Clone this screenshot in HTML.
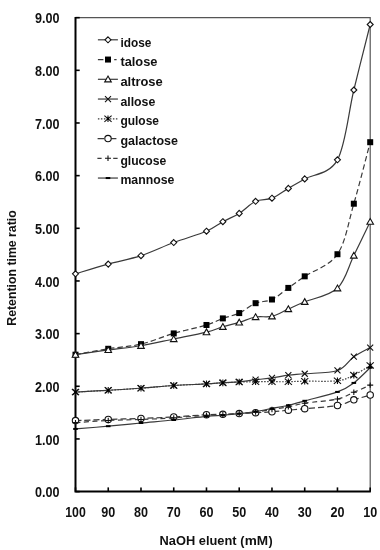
<!DOCTYPE html><html><head><meta charset="utf-8"><style>
html,body{margin:0;padding:0;background:#fff;}
body{width:380px;height:550px;overflow:hidden;}
svg{display:block;filter:blur(0.3px);}
text{font-family:"Liberation Sans",sans-serif;fill:#111;}
</style></head><body>
<svg width="380" height="550" viewBox="0 0 380 550">
<rect width="380" height="550" fill="#fff"/>
<path d="M75.50,17.66 H370.20 V491.60" fill="none" stroke="#555" stroke-width="1.2"/>
<path d="M75.50,17.06 V491.60 H370.80" fill="none" stroke="#000" stroke-width="2"/>
<path d="M75.50,491.60 H79.70" stroke="#000" stroke-width="1.6"/>
<path d="M75.50,438.94 H79.70" stroke="#000" stroke-width="1.6"/>
<path d="M75.50,386.28 H79.70" stroke="#000" stroke-width="1.6"/>
<path d="M75.50,333.62 H79.70" stroke="#000" stroke-width="1.6"/>
<path d="M75.50,280.96 H79.70" stroke="#000" stroke-width="1.6"/>
<path d="M75.50,228.30 H79.70" stroke="#000" stroke-width="1.6"/>
<path d="M75.50,175.64 H79.70" stroke="#000" stroke-width="1.6"/>
<path d="M75.50,122.98 H79.70" stroke="#000" stroke-width="1.6"/>
<path d="M75.50,70.32 H79.70" stroke="#000" stroke-width="1.6"/>
<path d="M75.50,17.66 H79.70" stroke="#000" stroke-width="1.6"/>
<path d="M75.50,491.60 V487.40" stroke="#000" stroke-width="1.6"/>
<path d="M108.24,491.60 V487.40" stroke="#000" stroke-width="1.6"/>
<path d="M140.99,491.60 V487.40" stroke="#000" stroke-width="1.6"/>
<path d="M173.73,491.60 V487.40" stroke="#000" stroke-width="1.6"/>
<path d="M206.48,491.60 V487.40" stroke="#000" stroke-width="1.6"/>
<path d="M239.22,491.60 V487.40" stroke="#000" stroke-width="1.6"/>
<path d="M271.97,491.60 V487.40" stroke="#000" stroke-width="1.6"/>
<path d="M304.71,491.60 V487.40" stroke="#000" stroke-width="1.6"/>
<path d="M337.46,491.60 V487.40" stroke="#000" stroke-width="1.6"/>
<path d="M370.20,491.60 V487.40" stroke="#000" stroke-width="1.6"/>
<path d="M75.50,273.80 C80.96,272.18 97.33,267.13 108.24,264.11 C119.16,261.09 130.07,259.28 140.99,255.68 C151.90,252.08 162.82,246.60 173.73,242.52 C184.65,238.44 198.29,234.66 206.48,231.20 C214.66,227.73 217.39,224.68 222.85,221.72 C228.31,218.75 233.76,216.80 239.22,213.40 C244.68,209.99 250.14,203.82 255.59,201.29 C261.05,198.75 266.51,200.33 271.97,198.18 C277.42,196.03 282.88,191.60 288.34,188.38 C293.80,185.17 296.52,183.66 304.71,178.90 C312.90,174.15 329.27,174.66 337.46,159.84 C345.64,145.03 348.37,112.57 353.83,90.01 C359.29,67.46 367.47,35.42 370.20,24.51" fill="none" stroke="#3a3a3a" stroke-width="1.20"/>
<path d="M75.50,270.80 L78.50,273.80 L75.50,276.80 L72.50,273.80 Z" fill="#fff" stroke="#111" stroke-width="1.1"/>
<path d="M108.24,261.11 L111.24,264.11 L108.24,267.11 L105.24,264.11 Z" fill="#fff" stroke="#111" stroke-width="1.1"/>
<path d="M140.99,252.68 L143.99,255.68 L140.99,258.68 L137.99,255.68 Z" fill="#fff" stroke="#111" stroke-width="1.1"/>
<path d="M173.73,239.52 L176.73,242.52 L173.73,245.52 L170.73,242.52 Z" fill="#fff" stroke="#111" stroke-width="1.1"/>
<path d="M206.48,228.20 L209.48,231.20 L206.48,234.20 L203.48,231.20 Z" fill="#fff" stroke="#111" stroke-width="1.1"/>
<path d="M222.85,218.72 L225.85,221.72 L222.85,224.72 L219.85,221.72 Z" fill="#fff" stroke="#111" stroke-width="1.1"/>
<path d="M239.22,210.40 L242.22,213.40 L239.22,216.40 L236.22,213.40 Z" fill="#fff" stroke="#111" stroke-width="1.1"/>
<path d="M255.59,198.29 L258.59,201.29 L255.59,204.29 L252.59,201.29 Z" fill="#fff" stroke="#111" stroke-width="1.1"/>
<path d="M271.97,195.18 L274.97,198.18 L271.97,201.18 L268.97,198.18 Z" fill="#fff" stroke="#111" stroke-width="1.1"/>
<path d="M288.34,185.38 L291.34,188.38 L288.34,191.38 L285.34,188.38 Z" fill="#fff" stroke="#111" stroke-width="1.1"/>
<path d="M304.71,175.90 L307.71,178.90 L304.71,181.90 L301.71,178.90 Z" fill="#fff" stroke="#111" stroke-width="1.1"/>
<path d="M337.46,156.84 L340.46,159.84 L337.46,162.84 L334.46,159.84 Z" fill="#fff" stroke="#111" stroke-width="1.1"/>
<path d="M353.83,87.01 L356.83,90.01 L353.83,93.01 L350.83,90.01 Z" fill="#fff" stroke="#111" stroke-width="1.1"/>
<path d="M370.20,21.51 L373.20,24.51 L370.20,27.51 L367.20,24.51 Z" fill="#fff" stroke="#111" stroke-width="1.1"/>
<path d="M75.50,354.68 C80.96,353.70 97.33,350.54 108.24,348.79 C119.16,347.03 130.07,346.71 140.99,344.15 C151.90,341.59 162.82,336.60 173.73,333.41 C184.65,330.21 198.29,327.49 206.48,324.98 C214.66,322.48 217.39,320.38 222.85,318.40 C228.31,316.42 233.76,315.62 239.22,313.08 C244.68,310.55 250.14,305.45 255.59,303.18 C261.05,300.92 266.51,302.04 271.97,299.50 C277.42,296.95 282.88,291.77 288.34,287.91 C293.80,284.05 296.52,281.94 304.71,276.33 C312.90,270.71 329.27,266.31 337.46,254.21 C345.64,242.11 348.37,222.38 353.83,203.71 C359.29,185.04 367.47,152.45 370.20,142.20" fill="none" stroke="#3a3a3a" stroke-width="1.20" stroke-dasharray="5.5 3"/>
<rect x="72.50" y="351.68" width="6" height="6" fill="#000"/>
<rect x="105.24" y="345.79" width="6" height="6" fill="#000"/>
<rect x="137.99" y="341.15" width="6" height="6" fill="#000"/>
<rect x="170.73" y="330.41" width="6" height="6" fill="#000"/>
<rect x="203.48" y="321.98" width="6" height="6" fill="#000"/>
<rect x="219.85" y="315.40" width="6" height="6" fill="#000"/>
<rect x="236.22" y="310.08" width="6" height="6" fill="#000"/>
<rect x="252.59" y="300.18" width="6" height="6" fill="#000"/>
<rect x="268.97" y="296.50" width="6" height="6" fill="#000"/>
<rect x="285.34" y="284.91" width="6" height="6" fill="#000"/>
<rect x="301.71" y="273.33" width="6" height="6" fill="#000"/>
<rect x="334.46" y="251.21" width="6" height="6" fill="#000"/>
<rect x="350.83" y="200.71" width="6" height="6" fill="#000"/>
<rect x="367.20" y="139.20" width="6" height="6" fill="#000"/>
<path d="M75.50,354.68 C80.96,353.89 97.33,351.44 108.24,349.94 C119.16,348.45 130.07,347.56 140.99,345.73 C151.90,343.91 162.82,341.26 173.73,338.99 C184.65,336.72 198.29,334.13 206.48,332.09 C214.66,330.06 217.39,328.39 222.85,326.77 C228.31,325.16 233.76,324.04 239.22,322.40 C244.68,320.77 250.14,318.00 255.59,316.98 C261.05,315.96 266.51,317.62 271.97,316.29 C277.42,314.97 282.88,311.44 288.34,309.03 C293.80,306.61 296.52,305.28 304.71,301.81 C312.90,298.35 329.27,295.94 337.46,288.23 C345.64,280.51 348.37,266.61 353.83,255.53 C359.29,244.44 367.47,227.35 370.20,221.72" fill="none" stroke="#3a3a3a" stroke-width="1.20"/>
<path d="M75.50,351.48 L78.80,357.28 L72.20,357.28 Z" fill="#fff" stroke="#111" stroke-width="1.1"/>
<path d="M108.24,346.74 L111.54,352.54 L104.94,352.54 Z" fill="#fff" stroke="#111" stroke-width="1.1"/>
<path d="M140.99,342.53 L144.29,348.33 L137.69,348.33 Z" fill="#fff" stroke="#111" stroke-width="1.1"/>
<path d="M173.73,335.79 L177.03,341.59 L170.43,341.59 Z" fill="#fff" stroke="#111" stroke-width="1.1"/>
<path d="M206.48,328.89 L209.78,334.69 L203.18,334.69 Z" fill="#fff" stroke="#111" stroke-width="1.1"/>
<path d="M222.85,323.57 L226.15,329.37 L219.55,329.37 Z" fill="#fff" stroke="#111" stroke-width="1.1"/>
<path d="M239.22,319.20 L242.52,325.00 L235.92,325.00 Z" fill="#fff" stroke="#111" stroke-width="1.1"/>
<path d="M255.59,313.78 L258.89,319.58 L252.29,319.58 Z" fill="#fff" stroke="#111" stroke-width="1.1"/>
<path d="M271.97,313.09 L275.27,318.89 L268.67,318.89 Z" fill="#fff" stroke="#111" stroke-width="1.1"/>
<path d="M288.34,305.83 L291.64,311.63 L285.04,311.63 Z" fill="#fff" stroke="#111" stroke-width="1.1"/>
<path d="M304.71,298.61 L308.01,304.41 L301.41,304.41 Z" fill="#fff" stroke="#111" stroke-width="1.1"/>
<path d="M337.46,285.03 L340.76,290.83 L334.16,290.83 Z" fill="#fff" stroke="#111" stroke-width="1.1"/>
<path d="M353.83,252.33 L357.13,258.13 L350.53,258.13 Z" fill="#fff" stroke="#111" stroke-width="1.1"/>
<path d="M370.20,218.52 L373.50,224.32 L366.90,224.32 Z" fill="#fff" stroke="#111" stroke-width="1.1"/>
<path d="M75.50,392.07 C80.96,391.77 97.33,390.92 108.24,390.28 C119.16,389.64 130.07,389.03 140.99,388.23 C151.90,387.43 162.82,386.21 173.73,385.49 C184.65,384.77 198.29,384.39 206.48,383.91 C214.66,383.43 217.39,382.94 222.85,382.59 C228.31,382.24 233.76,382.29 239.22,381.80 C244.68,381.32 250.14,380.34 255.59,379.70 C261.05,379.06 266.51,378.71 271.97,377.96 C277.42,377.21 282.88,375.92 288.34,375.22 C293.80,374.52 296.52,374.54 304.71,373.75 C312.90,372.96 329.27,373.33 337.46,370.48 C345.64,367.64 348.37,360.51 353.83,356.69 C359.29,352.86 367.47,349.05 370.20,347.52" fill="none" stroke="#3a3a3a" stroke-width="1.20"/>
<path d="M72.50,389.07 L78.50,395.07 M78.50,389.07 L72.50,395.07" stroke="#111" stroke-width="1.1" fill="none"/>
<path d="M105.24,387.28 L111.24,393.28 M111.24,387.28 L105.24,393.28" stroke="#111" stroke-width="1.1" fill="none"/>
<path d="M137.99,385.23 L143.99,391.23 M143.99,385.23 L137.99,391.23" stroke="#111" stroke-width="1.1" fill="none"/>
<path d="M170.73,382.49 L176.73,388.49 M176.73,382.49 L170.73,388.49" stroke="#111" stroke-width="1.1" fill="none"/>
<path d="M203.48,380.91 L209.48,386.91 M209.48,380.91 L203.48,386.91" stroke="#111" stroke-width="1.1" fill="none"/>
<path d="M219.85,379.59 L225.85,385.59 M225.85,379.59 L219.85,385.59" stroke="#111" stroke-width="1.1" fill="none"/>
<path d="M236.22,378.80 L242.22,384.80 M242.22,378.80 L236.22,384.80" stroke="#111" stroke-width="1.1" fill="none"/>
<path d="M252.59,376.70 L258.59,382.70 M258.59,376.70 L252.59,382.70" stroke="#111" stroke-width="1.1" fill="none"/>
<path d="M268.97,374.96 L274.97,380.96 M274.97,374.96 L268.97,380.96" stroke="#111" stroke-width="1.1" fill="none"/>
<path d="M285.34,372.22 L291.34,378.22 M291.34,372.22 L285.34,378.22" stroke="#111" stroke-width="1.1" fill="none"/>
<path d="M301.71,370.75 L307.71,376.75 M307.71,370.75 L301.71,376.75" stroke="#111" stroke-width="1.1" fill="none"/>
<path d="M334.46,367.48 L340.46,373.48 M340.46,367.48 L334.46,373.48" stroke="#111" stroke-width="1.1" fill="none"/>
<path d="M350.83,353.69 L356.83,359.69 M356.83,353.69 L350.83,359.69" stroke="#111" stroke-width="1.1" fill="none"/>
<path d="M367.20,344.52 L373.20,350.52 M373.20,344.52 L367.20,350.52" stroke="#111" stroke-width="1.1" fill="none"/>
<path d="M75.50,392.07 C80.96,391.77 97.33,390.92 108.24,390.28 C119.16,389.64 130.07,389.03 140.99,388.23 C151.90,387.43 162.82,386.21 173.73,385.49 C184.65,384.77 198.29,384.35 206.48,383.91 C214.66,383.47 217.39,383.16 222.85,382.86 C228.31,382.55 233.76,382.26 239.22,382.07 C244.68,381.87 250.14,381.76 255.59,381.70 C261.05,381.64 266.51,381.70 271.97,381.70 C277.42,381.70 282.88,381.79 288.34,381.70 C293.80,381.61 296.52,381.33 304.71,381.17 C312.90,381.01 329.27,381.76 337.46,380.75 C345.64,379.74 348.37,377.67 353.83,375.12 C359.29,372.56 367.47,367.04 370.20,365.43" fill="none" stroke="#3a3a3a" stroke-width="1.20" stroke-dasharray="1.5 1.5"/>
<path d="M71.90,388.97 L79.10,395.17 M79.10,388.97 L71.90,395.17 M75.50,388.77 L75.50,395.37" stroke="#111" stroke-width="1.1" fill="none"/><rect x="74.30" y="390.87" width="2.4" height="2.4" fill="#000"/>
<path d="M104.64,387.18 L111.84,393.38 M111.84,387.18 L104.64,393.38 M108.24,386.98 L108.24,393.58" stroke="#111" stroke-width="1.1" fill="none"/><rect x="107.04" y="389.08" width="2.4" height="2.4" fill="#000"/>
<path d="M137.39,385.13 L144.59,391.33 M144.59,385.13 L137.39,391.33 M140.99,384.93 L140.99,391.53" stroke="#111" stroke-width="1.1" fill="none"/><rect x="139.79" y="387.03" width="2.4" height="2.4" fill="#000"/>
<path d="M170.13,382.39 L177.33,388.59 M177.33,382.39 L170.13,388.59 M173.73,382.19 L173.73,388.79" stroke="#111" stroke-width="1.1" fill="none"/><rect x="172.53" y="384.29" width="2.4" height="2.4" fill="#000"/>
<path d="M202.88,380.81 L210.08,387.01 M210.08,380.81 L202.88,387.01 M206.48,380.61 L206.48,387.21" stroke="#111" stroke-width="1.1" fill="none"/><rect x="205.28" y="382.71" width="2.4" height="2.4" fill="#000"/>
<path d="M219.25,379.76 L226.45,385.96 M226.45,379.76 L219.25,385.96 M222.85,379.56 L222.85,386.16" stroke="#111" stroke-width="1.1" fill="none"/><rect x="221.65" y="381.66" width="2.4" height="2.4" fill="#000"/>
<path d="M235.62,378.97 L242.82,385.17 M242.82,378.97 L235.62,385.17 M239.22,378.77 L239.22,385.37" stroke="#111" stroke-width="1.1" fill="none"/><rect x="238.02" y="380.87" width="2.4" height="2.4" fill="#000"/>
<path d="M251.99,378.60 L259.19,384.80 M259.19,378.60 L251.99,384.80 M255.59,378.40 L255.59,385.00" stroke="#111" stroke-width="1.1" fill="none"/><rect x="254.39" y="380.50" width="2.4" height="2.4" fill="#000"/>
<path d="M268.37,378.60 L275.57,384.80 M275.57,378.60 L268.37,384.80 M271.97,378.40 L271.97,385.00" stroke="#111" stroke-width="1.1" fill="none"/><rect x="270.77" y="380.50" width="2.4" height="2.4" fill="#000"/>
<path d="M284.74,378.60 L291.94,384.80 M291.94,378.60 L284.74,384.80 M288.34,378.40 L288.34,385.00" stroke="#111" stroke-width="1.1" fill="none"/><rect x="287.14" y="380.50" width="2.4" height="2.4" fill="#000"/>
<path d="M301.11,378.07 L308.31,384.27 M308.31,378.07 L301.11,384.27 M304.71,377.87 L304.71,384.47" stroke="#111" stroke-width="1.1" fill="none"/><rect x="303.51" y="379.97" width="2.4" height="2.4" fill="#000"/>
<path d="M333.86,377.65 L341.06,383.85 M341.06,377.65 L333.86,383.85 M337.46,377.45 L337.46,384.05" stroke="#111" stroke-width="1.1" fill="none"/><rect x="336.26" y="379.55" width="2.4" height="2.4" fill="#000"/>
<path d="M350.23,372.02 L357.43,378.22 M357.43,372.02 L350.23,378.22 M353.83,371.82 L353.83,378.42" stroke="#111" stroke-width="1.1" fill="none"/><rect x="352.63" y="373.92" width="2.4" height="2.4" fill="#000"/>
<path d="M366.60,362.33 L373.80,368.53 M373.80,362.33 L366.60,368.53 M370.20,362.13 L370.20,368.73" stroke="#111" stroke-width="1.1" fill="none"/><rect x="369.00" y="364.23" width="2.4" height="2.4" fill="#000"/>
<path d="M75.50,420.61 C80.96,420.41 97.33,419.77 108.24,419.40 C119.16,419.03 130.07,418.82 140.99,418.40 C151.90,417.99 162.82,417.54 173.73,416.93 C184.65,416.31 198.29,415.16 206.48,414.72 C214.66,414.28 217.39,414.49 222.85,414.30 C228.31,414.10 233.76,413.82 239.22,413.56 C244.68,413.29 250.14,413.00 255.59,412.72 C261.05,412.43 266.51,412.24 271.97,411.82 C277.42,411.40 282.88,410.71 288.34,410.19 C293.80,409.66 296.52,409.44 304.71,408.66 C312.90,407.88 329.27,406.98 337.46,405.50 C345.64,404.03 348.37,401.56 353.83,399.81 C359.29,398.07 367.47,395.82 370.20,395.02" fill="none" stroke="#3a3a3a" stroke-width="1.20" stroke-dasharray="6 3"/>
<circle cx="75.50" cy="420.61" r="3.2" fill="#fff" stroke="#111" stroke-width="1.1"/>
<circle cx="108.24" cy="419.40" r="3.2" fill="#fff" stroke="#111" stroke-width="1.1"/>
<circle cx="140.99" cy="418.40" r="3.2" fill="#fff" stroke="#111" stroke-width="1.1"/>
<circle cx="173.73" cy="416.93" r="3.2" fill="#fff" stroke="#111" stroke-width="1.1"/>
<circle cx="206.48" cy="414.72" r="3.2" fill="#fff" stroke="#111" stroke-width="1.1"/>
<circle cx="222.85" cy="414.30" r="3.2" fill="#fff" stroke="#111" stroke-width="1.1"/>
<circle cx="239.22" cy="413.56" r="3.2" fill="#fff" stroke="#111" stroke-width="1.1"/>
<circle cx="255.59" cy="412.72" r="3.2" fill="#fff" stroke="#111" stroke-width="1.1"/>
<circle cx="271.97" cy="411.82" r="3.2" fill="#fff" stroke="#111" stroke-width="1.1"/>
<circle cx="288.34" cy="410.19" r="3.2" fill="#fff" stroke="#111" stroke-width="1.1"/>
<circle cx="304.71" cy="408.66" r="3.2" fill="#fff" stroke="#111" stroke-width="1.1"/>
<circle cx="337.46" cy="405.50" r="3.2" fill="#fff" stroke="#111" stroke-width="1.1"/>
<circle cx="353.83" cy="399.81" r="3.2" fill="#fff" stroke="#111" stroke-width="1.1"/>
<circle cx="370.20" cy="395.02" r="3.2" fill="#fff" stroke="#111" stroke-width="1.1"/>
<path d="M75.50,422.62 C80.96,422.26 97.33,421.04 108.24,420.51 C119.16,419.98 130.07,419.89 140.99,419.46 C151.90,419.02 162.82,418.58 173.73,417.88 C184.65,417.17 198.29,415.77 206.48,415.24 C214.66,414.72 217.39,414.98 222.85,414.72 C228.31,414.45 233.76,414.10 239.22,413.66 C244.68,413.22 250.14,412.79 255.59,412.08 C261.05,411.38 266.51,410.33 271.97,409.45 C277.42,408.57 282.88,407.86 288.34,406.82 C293.80,405.77 296.52,404.48 304.71,403.18 C312.90,401.88 329.27,400.84 337.46,399.02 C345.64,397.21 348.37,394.60 353.83,392.28 C359.29,389.97 367.47,386.32 370.20,385.12" fill="none" stroke="#3a3a3a" stroke-width="1.20" stroke-dasharray="5 3.5"/>
<path d="M72.50,422.62 L78.50,422.62 M75.50,419.92 L75.50,425.32" stroke="#111" stroke-width="1.1" fill="none"/>
<path d="M105.24,420.51 L111.24,420.51 M108.24,417.81 L108.24,423.21" stroke="#111" stroke-width="1.1" fill="none"/>
<path d="M137.99,419.46 L143.99,419.46 M140.99,416.76 L140.99,422.16" stroke="#111" stroke-width="1.1" fill="none"/>
<path d="M170.73,417.88 L176.73,417.88 M173.73,415.18 L173.73,420.58" stroke="#111" stroke-width="1.1" fill="none"/>
<path d="M203.48,415.24 L209.48,415.24 M206.48,412.54 L206.48,417.94" stroke="#111" stroke-width="1.1" fill="none"/>
<path d="M219.85,414.72 L225.85,414.72 M222.85,412.02 L222.85,417.42" stroke="#111" stroke-width="1.1" fill="none"/>
<path d="M236.22,413.66 L242.22,413.66 M239.22,410.96 L239.22,416.36" stroke="#111" stroke-width="1.1" fill="none"/>
<path d="M252.59,412.08 L258.59,412.08 M255.59,409.38 L255.59,414.78" stroke="#111" stroke-width="1.1" fill="none"/>
<path d="M268.97,409.45 L274.97,409.45 M271.97,406.75 L271.97,412.15" stroke="#111" stroke-width="1.1" fill="none"/>
<path d="M285.34,406.82 L291.34,406.82 M288.34,404.12 L288.34,409.52" stroke="#111" stroke-width="1.1" fill="none"/>
<path d="M301.71,403.18 L307.71,403.18 M304.71,400.48 L304.71,405.88" stroke="#111" stroke-width="1.1" fill="none"/>
<path d="M334.46,399.02 L340.46,399.02 M337.46,396.32 L337.46,401.72" stroke="#111" stroke-width="1.1" fill="none"/>
<path d="M350.83,392.28 L356.83,392.28 M353.83,389.58 L353.83,394.98" stroke="#111" stroke-width="1.1" fill="none"/>
<path d="M367.20,385.12 L373.20,385.12 M370.20,382.42 L370.20,387.82" stroke="#111" stroke-width="1.1" fill="none"/>
<path d="M75.50,428.93 C80.96,428.48 97.33,427.19 108.24,426.20 C119.16,425.20 130.07,424.02 140.99,422.98 C151.90,421.95 162.82,421.10 173.73,419.98 C184.65,418.87 198.29,417.09 206.48,416.30 C214.66,415.51 217.39,415.68 222.85,415.24 C228.31,414.80 233.76,414.28 239.22,413.66 C244.68,413.05 250.14,412.43 255.59,411.56 C261.05,410.68 266.51,409.45 271.97,408.40 C277.42,407.34 282.88,406.50 288.34,405.24 C293.80,403.97 296.52,403.03 304.71,400.81 C312.90,398.59 329.27,394.90 337.46,391.91 C345.64,388.93 348.37,386.95 353.83,382.91 C359.29,378.87 367.47,370.23 370.20,367.69" fill="none" stroke="#3a3a3a" stroke-width="1.20"/>
<rect x="73.20" y="427.93" width="4.6" height="2" fill="#000"/>
<rect x="105.94" y="425.20" width="4.6" height="2" fill="#000"/>
<rect x="138.69" y="421.98" width="4.6" height="2" fill="#000"/>
<rect x="171.43" y="418.98" width="4.6" height="2" fill="#000"/>
<rect x="204.18" y="415.30" width="4.6" height="2" fill="#000"/>
<rect x="220.55" y="414.24" width="4.6" height="2" fill="#000"/>
<rect x="236.92" y="412.66" width="4.6" height="2" fill="#000"/>
<rect x="253.29" y="410.56" width="4.6" height="2" fill="#000"/>
<rect x="269.67" y="407.40" width="4.6" height="2" fill="#000"/>
<rect x="286.04" y="404.24" width="4.6" height="2" fill="#000"/>
<rect x="302.41" y="399.81" width="4.6" height="2" fill="#000"/>
<rect x="335.16" y="390.91" width="4.6" height="2" fill="#000"/>
<rect x="351.53" y="381.91" width="4.6" height="2" fill="#000"/>
<rect x="367.90" y="366.69" width="4.6" height="2" fill="#000"/>
<text x="59.5" y="497.20" text-anchor="end" font-size="14.4" font-weight="bold" textLength="24.5" lengthAdjust="spacingAndGlyphs">0.00</text>
<text x="59.5" y="444.54" text-anchor="end" font-size="14.4" font-weight="bold" textLength="24.5" lengthAdjust="spacingAndGlyphs">1.00</text>
<text x="59.5" y="391.88" text-anchor="end" font-size="14.4" font-weight="bold" textLength="24.5" lengthAdjust="spacingAndGlyphs">2.00</text>
<text x="59.5" y="339.22" text-anchor="end" font-size="14.4" font-weight="bold" textLength="24.5" lengthAdjust="spacingAndGlyphs">3.00</text>
<text x="59.5" y="286.56" text-anchor="end" font-size="14.4" font-weight="bold" textLength="24.5" lengthAdjust="spacingAndGlyphs">4.00</text>
<text x="59.5" y="233.90" text-anchor="end" font-size="14.4" font-weight="bold" textLength="24.5" lengthAdjust="spacingAndGlyphs">5.00</text>
<text x="59.5" y="181.24" text-anchor="end" font-size="14.4" font-weight="bold" textLength="24.5" lengthAdjust="spacingAndGlyphs">6.00</text>
<text x="59.5" y="128.58" text-anchor="end" font-size="14.4" font-weight="bold" textLength="24.5" lengthAdjust="spacingAndGlyphs">7.00</text>
<text x="59.5" y="75.92" text-anchor="end" font-size="14.4" font-weight="bold" textLength="24.5" lengthAdjust="spacingAndGlyphs">8.00</text>
<text x="59.5" y="23.26" text-anchor="end" font-size="14.4" font-weight="bold" textLength="24.5" lengthAdjust="spacingAndGlyphs">9.00</text>
<text x="75.50" y="517.2" text-anchor="middle" font-size="14.6" font-weight="bold" textLength="20.5" lengthAdjust="spacingAndGlyphs">100</text>
<text x="108.24" y="517.2" text-anchor="middle" font-size="14.6" font-weight="bold" textLength="14.0" lengthAdjust="spacingAndGlyphs">90</text>
<text x="140.99" y="517.2" text-anchor="middle" font-size="14.6" font-weight="bold" textLength="14.0" lengthAdjust="spacingAndGlyphs">80</text>
<text x="173.73" y="517.2" text-anchor="middle" font-size="14.6" font-weight="bold" textLength="14.0" lengthAdjust="spacingAndGlyphs">70</text>
<text x="206.48" y="517.2" text-anchor="middle" font-size="14.6" font-weight="bold" textLength="14.0" lengthAdjust="spacingAndGlyphs">60</text>
<text x="239.22" y="517.2" text-anchor="middle" font-size="14.6" font-weight="bold" textLength="14.0" lengthAdjust="spacingAndGlyphs">50</text>
<text x="271.97" y="517.2" text-anchor="middle" font-size="14.6" font-weight="bold" textLength="14.0" lengthAdjust="spacingAndGlyphs">40</text>
<text x="304.71" y="517.2" text-anchor="middle" font-size="14.6" font-weight="bold" textLength="14.0" lengthAdjust="spacingAndGlyphs">30</text>
<text x="337.46" y="517.2" text-anchor="middle" font-size="14.6" font-weight="bold" textLength="14.0" lengthAdjust="spacingAndGlyphs">20</text>
<text x="370.20" y="517.2" text-anchor="middle" font-size="14.6" font-weight="bold" textLength="14.0" lengthAdjust="spacingAndGlyphs">10</text>
<text x="0" y="0" transform="translate(15.8,268) rotate(-90)" text-anchor="middle" font-size="13" font-weight="bold" textLength="115.5" lengthAdjust="spacingAndGlyphs">Retention time ratio</text>
<text x="159.6" y="545.1" font-size="12.5" font-weight="bold" textLength="77" lengthAdjust="spacingAndGlyphs">NaOH eluent</text>
<text x="240.3" y="545.1" font-size="12.5" font-weight="bold">(</text>
<text x="244.7" y="545.1" font-size="12.5" font-weight="bold" textLength="23.4" lengthAdjust="spacingAndGlyphs">mM</text>
<text x="268.4" y="545.1" font-size="12.5" font-weight="bold">)</text>
<path d="M97.9,39.80 H117.9" fill="none" stroke="#3a3a3a" stroke-width="1.20"/>
<path d="M108.00,36.80 L111.00,39.80 L108.00,42.80 L105.00,39.80 Z" fill="#fff" stroke="#111" stroke-width="1.1"/>
<text x="120.4" y="46.70" font-size="13.2" font-weight="bold" textLength="30.9" lengthAdjust="spacingAndGlyphs">idose</text>
<path d="M97.9,59.55 H103.4 M114.2,59.55 H116.6" fill="none" stroke="#3a3a3a" stroke-width="1.20"/>
<rect x="105.00" y="56.55" width="6" height="6" fill="#000"/>
<text x="120.4" y="66.38" font-size="13.2" font-weight="bold" textLength="37.1" lengthAdjust="spacingAndGlyphs">talose</text>
<path d="M97.9,79.30 H117.9" fill="none" stroke="#3a3a3a" stroke-width="1.20"/>
<path d="M108.00,76.10 L111.30,81.90 L104.70,81.90 Z" fill="#fff" stroke="#111" stroke-width="1.1"/>
<text x="120.4" y="86.06" font-size="13.2" font-weight="bold" textLength="42.3" lengthAdjust="spacingAndGlyphs">altrose</text>
<path d="M97.9,99.05 H117.9" fill="none" stroke="#3a3a3a" stroke-width="1.20"/>
<path d="M105.00,96.05 L111.00,102.05 M111.00,96.05 L105.00,102.05" stroke="#111" stroke-width="1.1" fill="none"/>
<text x="120.4" y="105.74" font-size="13.2" font-weight="bold" textLength="34.9" lengthAdjust="spacingAndGlyphs">allose</text>
<path d="M97.9,118.80 H117.9" fill="none" stroke="#3a3a3a" stroke-width="1.20" stroke-dasharray="1.5 1.5"/>
<path d="M104.40,115.70 L111.60,121.90 M111.60,115.70 L104.40,121.90 M108.00,115.50 L108.00,122.10" stroke="#111" stroke-width="1.1" fill="none"/><rect x="106.80" y="117.60" width="2.4" height="2.4" fill="#000"/>
<text x="120.4" y="125.42" font-size="13.2" font-weight="bold" textLength="38.6" lengthAdjust="spacingAndGlyphs">gulose</text>
<path d="M97.6,138.55 H104 M111,138.55 H116.4" fill="none" stroke="#3a3a3a" stroke-width="1.20"/>
<circle cx="108.00" cy="138.55" r="3.2" fill="#fff" stroke="#111" stroke-width="1.1"/>
<text x="120.4" y="145.10" font-size="13.2" font-weight="bold" textLength="57.5" lengthAdjust="spacingAndGlyphs">galactose</text>
<path d="M97.4,158.30 H101.6 M113.2,158.30 H117.6" fill="none" stroke="#3a3a3a" stroke-width="1.20"/>
<path d="M105.00,158.30 L111.00,158.30 M108.00,155.60 L108.00,161.00" stroke="#111" stroke-width="1.1" fill="none"/>
<text x="120.4" y="164.78" font-size="13.2" font-weight="bold" textLength="45.9" lengthAdjust="spacingAndGlyphs">glucose</text>
<path d="M97.9,178.05 H117.9" fill="none" stroke="#3a3a3a" stroke-width="1.20"/>
<rect x="105.70" y="177.05" width="4.6" height="2" fill="#000"/>
<text x="120.4" y="184.46" font-size="13.2" font-weight="bold" textLength="53.9" lengthAdjust="spacingAndGlyphs">mannose</text>
</svg></body></html>
